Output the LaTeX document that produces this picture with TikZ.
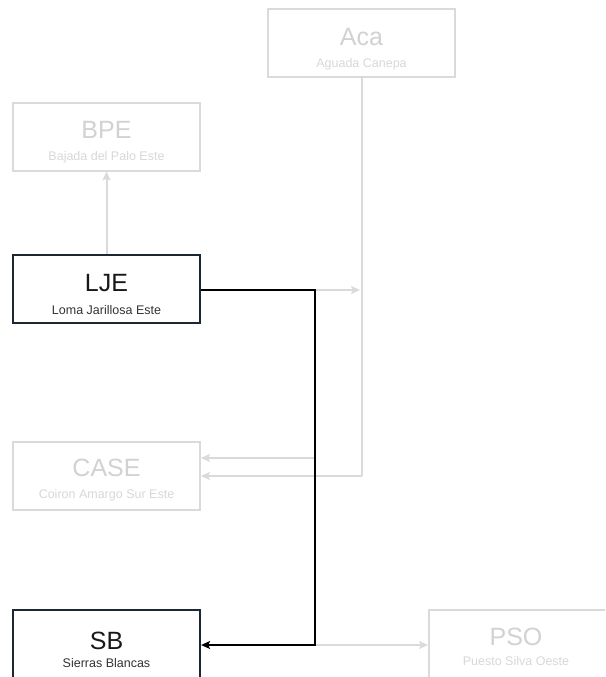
\documentclass[tikz,border=0pt]{standalone}
\usepackage{fontspec}
\setmainfont{Liberation Sans}
\usetikzlibrary{arrows.meta}
\definecolor{darkframe}{HTML}{1B2833}
\definecolor{faintframe}{HTML}{DADADA}
\definecolor{fainttext}{HTML}{D2D2D2}
\definecolor{faintsub}{HTML}{D8D8D8}
\begin{document}
\begin{tikzpicture}[x=1pt,y=-1pt,
  activebox/.style={draw=darkframe,line width=2.2pt,fill=white,minimum width=187pt,minimum height=68pt,inner sep=0pt},
  faintbox/.style={draw=faintframe,line width=2pt,fill=white,minimum width=187pt,minimum height=68pt,inner sep=0pt},
  titleA/.style={font=\fontsize{25}{28}\selectfont,text=black!90,inner sep=0pt},
  subA/.style={font=\fontsize{12.5}{14}\selectfont,text=black!80,inner sep=0pt},
  titleF/.style={font=\fontsize{25}{28}\selectfont,text=fainttext,inner sep=0pt},
  subF/.style={font=\fontsize{12.5}{14}\selectfont,text=faintsub,inner sep=0pt},
  darkline/.style={draw=black,line width=2.2pt,-{Stealth[length=9pt,width=8pt,inset=2pt]}},
  faintline/.style={draw=faintframe,line width=2pt,-{Stealth[length=9pt,width=8pt,inset=2pt]}},
  faintplain/.style={draw=faintframe,line width=2pt}
]
\useasboundingbox (0,0) rectangle (605,677);
\clip (0,0) rectangle (605,677);
\fill[white] (0,0) rectangle (605,677);

% boxes
\node[faintbox] (aca) at (361.5,43) {};
\node[titleF] (acat) at (361.5,37) {Aca};
\node[subF] (acas) at (361.5,64) {Aguada Canepa};

\node[faintbox] (bpe) at (106.5,136.5) {};
\node[titleF] (bpet) at (106.5,130) {BPE};
\node[subF] (bpes) at (106.5,157) {Bajada del Palo Este};

\node[activebox] (lje) at (106.5,289) {};
\node[titleA] (ljet) at (106.5,283) {LJE};
\node[subA] (ljes) at (106.5,310) {Loma Jarillosa Este};

\node[faintbox] (case) at (106.5,475.5) {};
\node[titleF] (caset) at (106.5,468) {CASE};
\node[subF] (cases) at (106.5,495) {Coiron Amargo Sur Este};

\node[activebox] (sb) at (106.5,644) {};
\node[titleA] (sbt) at (106.5,641) {SB};
\node[subA] (sbs) at (106.5,663) {Sierras Blancas};

\node[faintbox] (pso) at (522.5,644) {};
\node[titleF] (psot) at (516,637) {PSO};
\node[subF] (psos) at (516,661) {Puesto Silva Oeste};

% coordinates
\coordinate (j1) at (315,290);
\coordinate (j2) at (315,645);
\coordinate (j3) at (315,458);
\coordinate (acaend) at (361.5,476);
\coordinate (acaarrow) at (360,290);

% faint connectors
\draw[faintline] (lje.north) -- (bpe.south);
\draw[faintline] (j1) -- (acaarrow);
\draw[faintplain] (aca.south) -- (acaend);
\draw[faintline] (acaend) -- (case.east |- acaend);
\draw[faintline] (j3) -- (case.east |- j3);
\draw[faintline] (j2) -- (pso.west |- j2);

% dark connector
\draw[darkline] (lje.east |- j1) -- (j1) -- (j2) -- (sb.east |- j2);
\end{tikzpicture}
\end{document}
